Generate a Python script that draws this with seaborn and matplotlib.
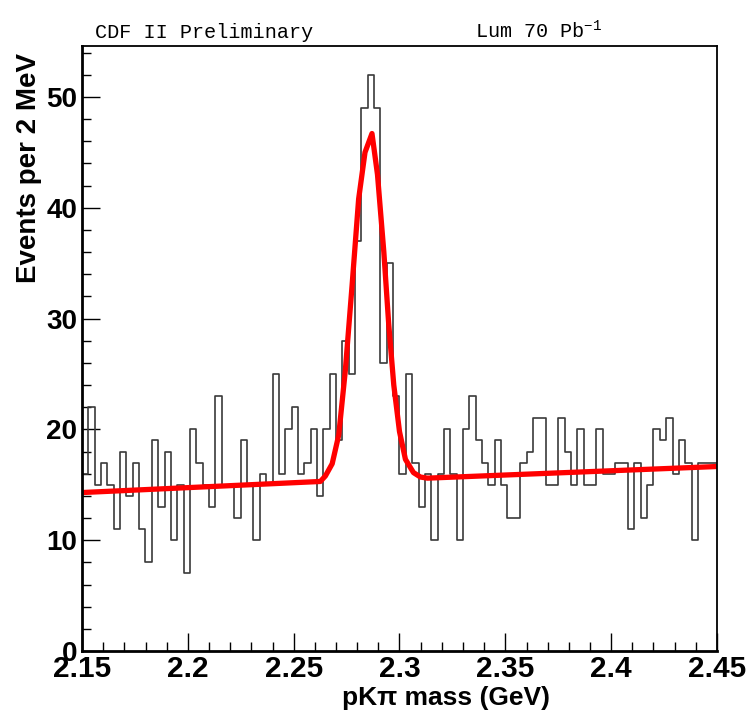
import numpy as np
import pandas as pd
import matplotlib
matplotlib.use("Agg")
import matplotlib.pyplot as plt
from matplotlib.ticker import MultipleLocator, FixedLocator, FixedFormatter
import seaborn as sns

# ---------------- data ----------------
mass_min, mass_max = 2.15, 2.45
y_max = 54.6
counts = [16, 22, 15, 17, 15, 11, 18, 14, 17, 11,
          8, 19, 13, 18, 10, 15, 7, 20, 17, 15,
          13, 23, 15, 15, 12, 19, 15, 10, 16, 15,
          25, 16, 20, 22, 16, 17, 20, 14, 20, 25,
          19, 28, 25, 37, 49, 52, 49, 26, 35, 23,
          16, 25, 17, 13, 16, 10, 16, 20, 16, 10,
          20, 23, 19, 17, 15, 19, 15, 12, 12, 17,
          18, 21, 21, 15, 15, 21, 18, 15, 20, 15,
          15, 20, 16, 16, 17, 17, 11, 17, 12, 15,
          20, 19, 21, 16, 19, 17, 10, 17, 17, 17]

fit_mass = [2.150, 2.2626, 2.2650, 2.2682, 2.2713, 2.2744, 2.2776, 2.2807,
            2.2837, 2.2870, 2.2896, 2.2926, 2.2949, 2.2973, 2.3000, 2.3028,
            2.3066, 2.3099, 2.3132, 2.450]
fit_value = [14.3, 15.3, 15.8, 16.9, 19.5, 25.3, 33.0, 40.8,
             45.0, 46.7, 43.0, 36.0, 29.5, 24.0, 19.8, 17.3,
             16.1, 15.7, 15.6, 16.65]

xtick_values = [2.15, 2.2, 2.25, 2.3, 2.35, 2.4, 2.45]
xtick_labels = ["2.15", "2.2", "2.25", "2.3", "2.35", "2.4", "2.45"]
ytick_values = [0, 10, 20, 30, 40, 50]
ytick_labels = ["0", "10", "20", "30", "40", "50"]

title_left = "CDF II Preliminary"
title_right = "Lum 70 Pb$^{-1}$"
x_title = "pK\u03c0 mass (GeV)"
y_title = "Events per 2 MeV"

# ---------------- figure ----------------
sns.set_theme(style="ticks")
plt.rcParams["font.family"] = ["Liberation Sans", "DejaVu Sans"]
plt.rcParams["mathtext.default"] = "regular"

W, H = 748, 716
fig = plt.figure(figsize=(W / 100, H / 100), dpi=100)
fig.patch.set_facecolor("white")
ax_l, ax_r, ax_b, ax_t = 82, 717, 651, 46
ax = fig.add_axes([ax_l / W, 1 - ax_b / H, (ax_r - ax_l) / W, (ax_b - ax_t) / H])
ax.set_facecolor("white")

nbins = len(counts)
bin_w = (mass_max - mass_min) / nbins
centers = mass_min + bin_w * (np.arange(nbins) + 0.5)
df = pd.DataFrame({"mass": centers, "events": np.asarray(counts, dtype=float)})

sns.histplot(data=df, x="mass", weights="events", bins=nbins,
             binrange=(mass_min, mass_max), element="step",
             fill=False, color="#3a3a3a", linewidth=1.2, ax=ax)

fit_df = pd.DataFrame({"mass": fit_mass, "value": fit_value})
sns.lineplot(data=fit_df, x="mass", y="value", color="#ff0000", linewidth=3.8,
             sort=False, estimator=None, ax=ax)

ax.set_xlim(mass_min, mass_max)
ax.set_ylim(0, y_max)

ax.xaxis.set_major_locator(FixedLocator(xtick_values))
ax.xaxis.set_major_formatter(FixedFormatter(xtick_labels))
ax.xaxis.set_minor_locator(MultipleLocator(0.01))
ax.yaxis.set_major_locator(FixedLocator(ytick_values))
ax.yaxis.set_major_formatter(FixedFormatter(ytick_labels))
ax.yaxis.set_minor_locator(MultipleLocator(2))

ax.tick_params(axis="both", which="major", direction="in", length=13, width=1.0,
               color="black", labelcolor="black", top=False, right=False)
ax.tick_params(axis="both", which="minor", direction="in", length=6.5, width=1.0,
               color="black", top=False, right=False)
ax.tick_params(axis="x", which="major", pad=3, labelsize=21.5)
ax.tick_params(axis="y", which="major", pad=3.5, labelsize=20)
for lbl in ax.get_xticklabels() + ax.get_yticklabels():
    lbl.set_fontweight("bold")

for side in ["left", "bottom"]:
    ax.spines[side].set_linewidth(2.0)
    ax.spines[side].set_color("black")
for side in ["top", "right"]:
    ax.spines[side].set_linewidth(1.3)
    ax.spines[side].set_color("black")
    ax.spines[side].set_visible(True)

ax.set_xlabel("")
ax.set_ylabel("")
fig.text(446 / W, 1 - 698 / H, x_title, ha="center", va="center",
         fontsize=19, fontweight="bold", color="black")
fig.text(29 / W, 1 - 168 / H, y_title, ha="center", va="center", rotation=90,
         fontsize=20, fontweight="bold", color="black")

fig.text(95 / W, 1 - 38 / H, title_left, ha="left", va="baseline",
         fontsize=14.5, family=["Liberation Mono", "DejaVu Sans Mono"], color="black")
fig.text(475 / W, 1 - 38 / H, title_right, ha="left", va="baseline",
         fontsize=14.5, family=["Liberation Mono", "DejaVu Sans Mono"], color="black")

fig.savefig("out.png", dpi=100, facecolor="white")
